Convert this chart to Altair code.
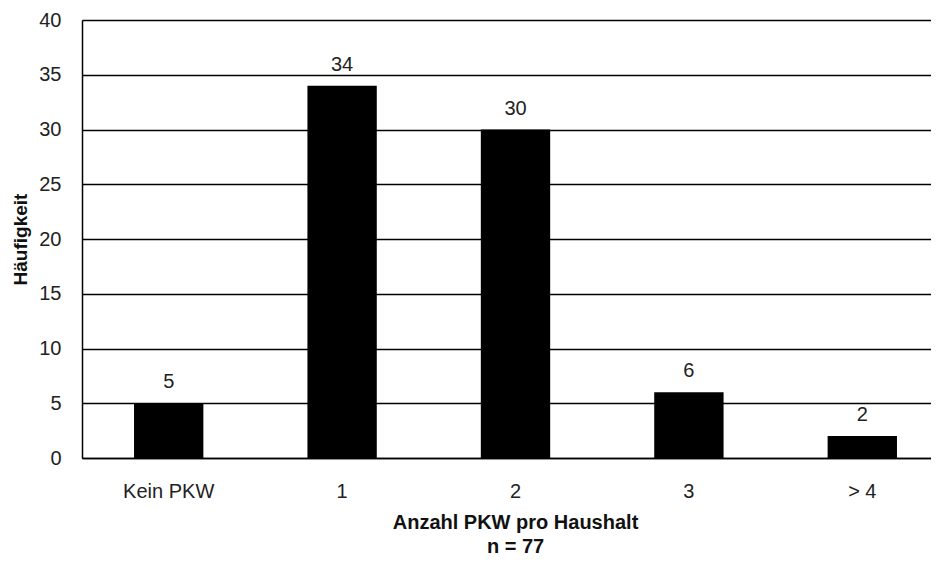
import altair as alt
import pandas as pd

categories = ["Kein PKW", "1", "2", "3", "> 4"]
counts = [5, 34, 30, 6, 2]

df = pd.DataFrame({"kategorie": categories, "anzahl": counts})

FONT = "Liberation Sans"

x = alt.X(
    "kategorie:N",
    sort=categories,
    scale=alt.Scale(range=[0, 867], paddingInner=0.6, paddingOuter=0.3),
    axis=alt.Axis(
        title=["Anzahl PKW pro Haushalt", "n = 77"],
        titleFont=FONT, titleFontSize=20, titleFontWeight="bold", titleColor="#111",
        titleLineHeight=24, titlePadding=11,
        titleX=433, titleAnchor="middle",
        labelFont=FONT, labelFontSize=20, labelColor="#222", labelAngle=0,
        labelPadding=23, ticks=False,
        domainColor="#000", domainWidth=1.5, grid=False,
    ),
)

y = alt.Y(
    "anzahl:Q",
    scale=alt.Scale(domain=[0, 40], nice=False),
    axis=alt.Axis(
        title="Häufigkeit", values=list(range(0, 45, 5)),
        titleFont=FONT, titleFontSize=19, titleFontWeight="bold", titleColor="#111",
        titlePadding=8,
        labelFont=FONT, labelFontSize=20, labelColor="#222", labelPadding=21,
        ticks=False, domainColor="#000", domainWidth=1.5,
        grid=True, gridColor="#000", gridWidth=1.3, gridOpacity=1,
    ),
)

bars = alt.Chart(df).mark_bar(color="#000").encode(x=x, y=y)
labels = alt.Chart(df).mark_text(
    font=FONT, fontSize=20, color="#222", baseline="bottom", dy=-11
).encode(x=alt.X("kategorie:N", sort=categories), y="anzahl:Q", text="anzahl:Q")

chart = (bars + labels).properties(
    width=849, height=438,
    autosize=alt.AutoSizeParams(type="none"),
    padding={"left": 74, "top": 12, "right": 0, "bottom": 100},
).configure_view(stroke=None).configure(background="#ffffff")

chart.save("out.html", embed_options={"renderer": "svg", "actions": False})
